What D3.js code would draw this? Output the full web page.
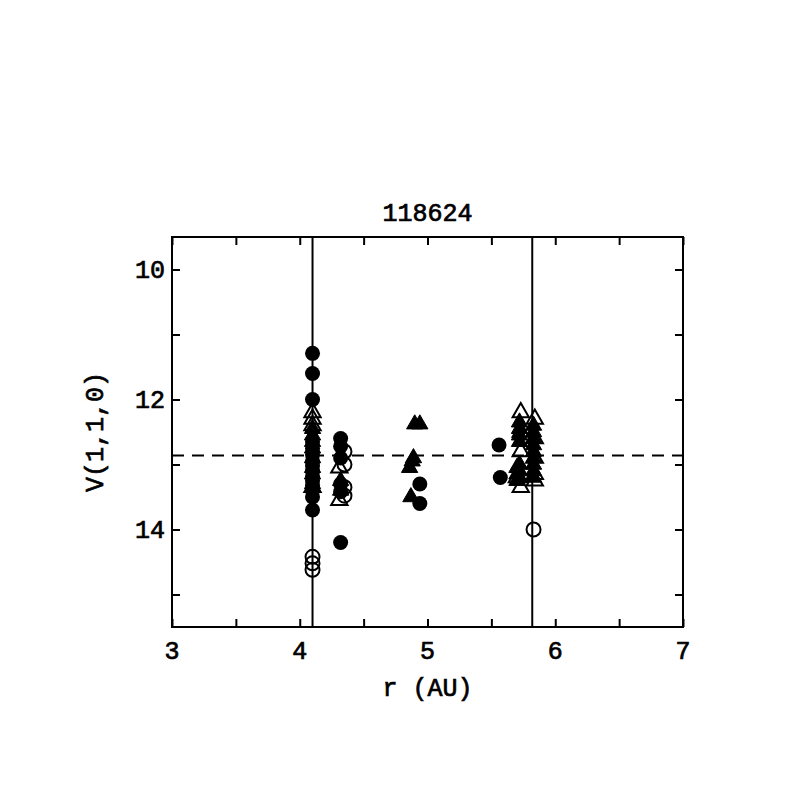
<!DOCTYPE html>
<html><head><meta charset="utf-8">
<script src="https://cdn.jsdelivr.net/npm/d3@7"></script>
<style>body{margin:0;background:#fff}</style>
</head><body>
<svg id="c" width="797" height="797"></svg>
<script>
const title = "118624";
const xTicks = [3, 4, 5, 6, 7];
const yTicks = [10, 12, 14];
const vLines = [4.10, 5.82];
const hLine = 12.86;

const filledCircleR = [4.10,4.10,4.10,4.10,4.10,4.10,4.10,4.10,4.10,4.10,4.10,4.10,4.10,4.10,4.10, 4.32,4.32,4.32,4.32,4.32,4.32, 4.94,4.94, 5.56,5.57];
const filledCircleV = [11.29,11.6,12.0,12.65,12.75,12.85,12.95,13.02,13.1,13.18,13.25,13.32,13.4,13.5,13.7, 12.6,12.72,12.9,13.3,13.42,14.2, 13.3,13.6, 12.7,13.2];

const openCircleR = [4.10,4.10,4.10, 4.35,4.35,4.35,4.35, 5.83];
const openCircleV = [14.42,14.52,14.62, 12.8,13.0,13.35,13.48, 14.0];

const filledTriR = [4.10,4.10,4.10,4.10,4.10,4.10,4.10,4.10, 4.32,4.32, 4.90,4.94, 4.88,4.86,4.89,4.87, 5.72,5.72,5.72,5.72,5.72,5.72,5.72, 5.70,5.70,5.70, 5.83,5.83,5.83,5.83,5.83,5.83,5.83,5.83,5.83];
const filledTriV = [12.45,12.55,12.65,12.75,12.9,13.05,13.15,13.3, 13.25,13.4, 12.38,12.38, 12.95,13.05,12.9,13.5, 12.35,12.45,12.55,12.65,13.0,13.1,13.2, 13.05,13.15,13.25, 12.4,12.5,12.6,12.7,12.8,12.9,13.0,13.1,13.2];

const openTriR = [4.10,4.10,4.10,4.10, 4.31,4.31, 5.73,5.73,5.73,5.73, 5.70, 5.84,5.84,5.84,5.84,5.84];
const openTriV = [12.2,12.3,12.4,13.35, 13.05,13.55, 12.2,12.5,12.8,13.35, 13.2, 12.3,12.6,12.9,13.15,13.25];

const svg = d3.select("#c");
const L = 172, R = 683, T = 237, B = 627;
const x = d3.scaleLinear().domain([3, 7]).range([L, R]);
const y = d3.scaleLinear().domain([9.5, 15.5]).range([T, B]);
const font = "'Liberation Mono', 'DejaVu Sans Mono', monospace";

const plot = svg.append("g");
plot.append("defs").append("clipPath").attr("id","clip").append("rect")
  .attr("x",L).attr("y",T).attr("width",R-L).attr("height",B-T);
const g = plot.append("g").attr("clip-path","url(#clip)");

vLines.forEach(v => g.append("line").attr("x1",x(v)).attr("x2",x(v)).attr("y1",T).attr("y2",B)
  .attr("stroke","#000").attr("stroke-width",2));
g.append("line").attr("x1",L).attr("x2",R).attr("y1",y(hLine)).attr("y2",y(hLine))
  .attr("stroke","#000").attr("stroke-width",2).attr("stroke-dasharray","12,8");

const tri = d3.symbol().type(d3.symbolTriangle).size(115);
function pts(rs, vs){ return rs.map((r,i)=>({r, v: vs[i]})); }

g.selectAll(".oc").data(pts(openCircleR, openCircleV)).enter().append("circle")
  .attr("cx",d=>x(d.r)).attr("cy",d=>y(d.v)).attr("r",7)
  .attr("fill","none").attr("stroke","#000").attr("stroke-width",2);
g.selectAll(".ot").data(pts(openTriR, openTriV)).enter().append("path")
  .attr("d",tri).attr("transform",d=>`translate(${x(d.r)},${y(d.v)})`)
  .attr("fill","none").attr("stroke","#000").attr("stroke-width",2);
g.selectAll(".ft").data(pts(filledTriR, filledTriV)).enter().append("path")
  .attr("d",tri).attr("transform",d=>`translate(${x(d.r)},${y(d.v)})`)
  .attr("fill","#000").attr("stroke","#000").attr("stroke-width",1);
g.selectAll(".fc").data(pts(filledCircleR, filledCircleV)).enter().append("circle")
  .attr("cx",d=>x(d.r)).attr("cy",d=>y(d.v)).attr("r",7.5).attr("fill","#000");

svg.append("rect").attr("x",L).attr("y",T).attr("width",R-L).attr("height",B-T)
  .attr("fill","none").attr("stroke","#000").attr("stroke-width",2);

const xMinor = d3.range(3, 7.01, 0.5);
const yMinor = d3.range(10, 15.01, 1);
const ax = svg.append("g").attr("transform",`translate(0,${B})`)
  .call(d3.axisBottom(x).tickValues(xMinor).tickSize(-8).tickFormat(""));
const axT = svg.append("g").attr("transform",`translate(0,${T})`)
  .call(d3.axisTop(x).tickValues(xMinor).tickSize(-8).tickFormat(""));
const ay = svg.append("g").attr("transform",`translate(${L},0)`)
  .call(d3.axisLeft(y).tickValues(yMinor).tickSize(-8).tickFormat(""));
const ayR = svg.append("g").attr("transform",`translate(${R},0)`)
  .call(d3.axisRight(y).tickValues(yMinor).tickSize(-8).tickFormat(""));
[ax,axT,ay,ayR].forEach(a=>{ a.select(".domain").remove(); a.selectAll("line").attr("stroke","#000").attr("stroke-width",2); });

function txt(sel){ return sel.attr("font-family",font).attr("font-size",25)
  .attr("stroke","#000").attr("stroke-width",0.7).attr("fill","#000"); }

txt(svg.append("g").selectAll("text").data(xTicks).enter().append("text")
  .attr("x",d=>x(d)).attr("y",B+32).attr("text-anchor","middle").text(d=>d));
txt(svg.append("g").selectAll("text").data(yTicks).enter().append("text")
  .attr("x",L-7).attr("y",d=>y(d)+8).attr("text-anchor","end").text(d=>d));

txt(svg.append("text").attr("x",(L+R)/2).attr("y",221).attr("text-anchor","middle").text(title));
txt(svg.append("text").attr("x",(L+R)/2).attr("y",696).attr("text-anchor","middle").text("r (AU)"));
txt(svg.append("text").attr("transform",`translate(103,${(T+B)/2}) rotate(-90)`).attr("text-anchor","middle").text("V(1,1,0)"));
</script>
</body></html>
